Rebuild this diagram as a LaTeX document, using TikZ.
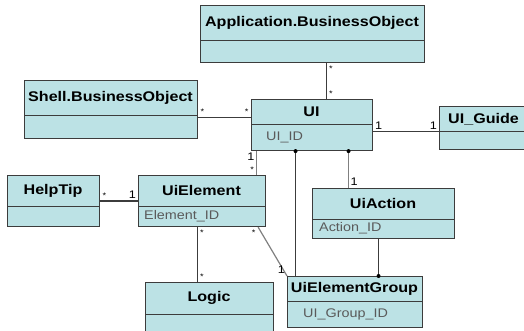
\documentclass[tikz,border=0pt]{standalone}
\usepackage{fontspec}
\setmainfont{Liberation Sans}[FakeStretch=1.15]
\usepackage{tikz}
\usetikzlibrary{calc, positioning, arrows.meta}
\usepackage{xcolor}
\definecolor{classfill}{HTML}{BCE2E5}
\definecolor{edgegray}{HTML}{3C3C3C}
\definecolor{attrgray}{HTML}{5A5A5A}

% name, x, y, width, height, divider, title, attribute, indent
\newcommand{\umlclass}[9]{%
  \node[classbox, minimum width=#4pt, minimum height=#5pt, anchor=north west] (#1) at (#2,#3) {};
  \draw[divider] (#2,#3+#6) -- (#2+#4,#3+#6);
  \node[classname] (#1-name) at (#2+#4/2,#3+#6/2) {#7};
  \node[classattr] (#1-attr) at (#2+#9,#3+#6/2+#5/2) {#8};
}

\begin{document}
\begin{tikzpicture}[x=1pt, y=-1pt,
  classbox/.style={draw=edgegray, fill=classfill, line width=1.1pt, inner sep=0pt},
  divider/.style={draw=edgegray, line width=1pt},
  classname/.style={font=\fontsize{14}{16}\selectfont\bfseries, text=black, inner sep=0pt},
  classattr/.style={font=\fontsize{12.5}{14}\selectfont, text=attrgray, anchor=west, inner sep=0pt},
  assoc/.style={draw=edgegray, line width=1.2pt},
  mult/.style={font=\fontsize{11}{12}\selectfont, inner sep=1.5pt},
  many/.style={font=\fontsize{8}{9}\selectfont, inner sep=2pt},
  dot/.style={circle, fill=black, inner sep=0pt, minimum size=4pt}]

  \useasboundingbox (0,0) rectangle (524,331);

  \umlclass{app}{200}{5}{224}{57}{36}{Application.BusinessObject}{}{6}
  \umlclass{shell}{24}{80}{173}{58}{36}{Shell.BusinessObject}{}{6}
  \umlclass{ui}{251}{99}{121}{51}{26}{UI}{UI\_ID}{15}
  \umlclass{guide}{439}{106}{130}{43}{26}{}{}{6}
  \node[classname, anchor=west] (guide-title) at (448,119) {UI\_Guide};
  \umlclass{helptip}{7}{175}{92}{51}{31}{HelpTip}{}{6}
  \umlclass{uielem}{138}{175}{127}{51}{31}{UiElement}{Element\_ID}{6}
  \umlclass{uiaction}{312}{188}{142}{50}{31}{UiAction}{Action\_ID}{7}
  \umlclass{logic}{145}{282}{128}{60}{32}{Logic}{}{6}
  \umlclass{group}{287}{276}{135}{51}{25}{UiElementGroup}{UI\_Group\_ID}{16}

  \draw[assoc] ([xshift=14pt]app.south) -- ([xshift=14.5pt]ui.north)
      node[many, at start, anchor=north west] {*} node[many, at end, anchor=south west] {*};
  \draw[assoc] ([yshift=-8pt]shell.east) -- ([yshift=7.5pt]ui.west)
      node[many, at start, anchor=south west] {*} node[many, at end, anchor=south east] {*};
  \draw[assoc] ([yshift=-6.5pt]ui.east) -- ([yshift=-3.5pt]guide.west)
      node[mult, at start, anchor=south west] {1} node[mult, at end, anchor=south east] {1};
  \draw[assoc, draw=gray] ([xshift=-55.5pt]ui.south) -- ([xshift=54.5pt]uielem.north)
      node[mult, at start, anchor=north east] {1} node[many, at end, anchor=south east] {*};
  \draw[assoc] ([xshift=-16.5pt]ui.south) -- ([xshift=-59.5pt]group.north)
      node[dot, at start] {};
  \draw[assoc, draw=gray] ([xshift=36.5pt]ui.south) -- ([xshift=-35pt]uiaction.north)
      node[dot, at start] {} node[mult, at end, anchor=south west] {1};
  \draw[assoc] ([xshift=-5pt]uiaction.south) -- ([xshift=23.5pt]group.north)
      node[dot, at end] {};
  \draw[assoc] (helptip.east) -- (uielem.west)
      node[many, at start, anchor=south west] {*} node[mult, at end, anchor=south east] {1};
  \draw[assoc] ([xshift=-4.5pt]uielem.south) -- ([xshift=-12pt]logic.north)
      node[many, at start, anchor=north west] {*} node[many, at end, anchor=south west] {*};
  \draw[assoc, draw=gray] ([xshift=-8pt]uielem.south east) -- (group.north west)
      node[many, at start, anchor=north east] {*} node[mult, at end, anchor=south east] {1};

\end{tikzpicture}
\end{document}
